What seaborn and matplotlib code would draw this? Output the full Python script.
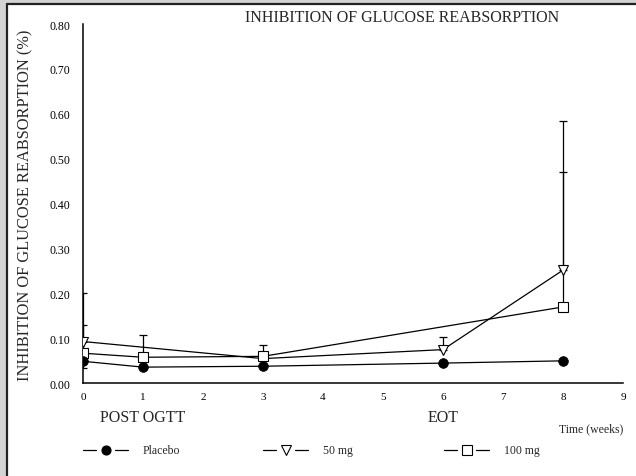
import matplotlib
matplotlib.use("Agg")
import matplotlib.pyplot as plt
import seaborn as sns
import pandas as pd
import numpy as np
from matplotlib.lines import Line2D
from matplotlib.patches import Rectangle

# ---- data ----
placebo_x = [0, 1, 3, 6, 8]
placebo_y = [0.049, 0.036, 0.038, 0.045, 0.050]
placebo_err_lo = [0.015, 0, 0, 0, 0]

mg50_x = [0, 3, 6, 8]
mg50_y = [0.093, 0.055, 0.075, 0.252]
mg50_err_up = [0.107, 0.0, 0.029, 0.332]

mg100_x = [0, 1, 3, 8]
mg100_y = [0.067, 0.058, 0.060, 0.170]
mg100_err_up = [0.063, 0.049, 0.025, 0.301]

yticks = [0.0, 0.1, 0.2, 0.3, 0.4, 0.5, 0.6, 0.7, 0.8]
ytick_labels = ["0.00", "0.10", "0.20", "0.30", "0.40", "0.50", "0.60", "0.70", "0.80"]
xticks = list(range(0, 10))

title = "INHIBITION OF GLUCOSE REABSORPTION"
ylabel = "INHIBITION OF GLUCOSE REABSORPTION (%)"
xlabel = "Time (weeks)"
phase_labels = ["POST OGTT", "EOT"]
phase_pos = [1, 6]
legend_labels = ["Placebo", "50 mg", "100 mg"]

sns.set_theme(style="white")
plt.rcParams["font.family"] = ["Liberation Serif", "DejaVu Serif"]

W, H = 636, 477
fig = plt.figure(figsize=(6.36, 4.77), dpi=100, facecolor="#d3d3d3")
fig.add_artist(Rectangle((8 / W, 0), 1, 1 - 5 / H, transform=fig.transFigure,
                         facecolor="white", edgecolor="none", zorder=-10))
fig.add_artist(Line2D([7 / W, 1], [1 - 4.5 / H, 1 - 4.5 / H], transform=fig.transFigure,
                      color="#222222", lw=1.6))
fig.add_artist(Line2D([7 / W, 7 / W], [0, 1 - 4.5 / H], transform=fig.transFigure,
                      color="#222222", lw=1.6))

ax = fig.add_axes([83 / W, (H - 384.3) / H, 540 / W, (384.3 - 25) / H])
ax.set_facecolor("none")

df_p = pd.DataFrame({"x": placebo_x, "y": placebo_y})
df_50 = pd.DataFrame({"x": mg50_x, "y": mg50_y})
df_100 = pd.DataFrame({"x": mg100_x, "y": mg100_y})

lw = 0.9
ax.errorbar(mg50_x, mg50_y, yerr=[np.zeros(len(mg50_x)), mg50_err_up], fmt="none",
            ecolor="black", elinewidth=lw, capsize=2.6, capthick=lw, zorder=2)
ax.errorbar(mg100_x, mg100_y, yerr=[np.zeros(len(mg100_x)), mg100_err_up], fmt="none",
            ecolor="black", elinewidth=lw, capsize=2.6, capthick=lw, zorder=2)
ax.errorbar(placebo_x, placebo_y, yerr=[placebo_err_lo, np.zeros(len(placebo_x))], fmt="none",
            ecolor="black", elinewidth=lw, capsize=2.6, capthick=lw, zorder=2)

sns.lineplot(data=df_50, x="x", y="y", ax=ax, color="black", lw=lw, marker="v",
             markersize=6.5, markerfacecolor="white", markeredgecolor="black",
             markeredgewidth=0.8, zorder=3)
sns.lineplot(data=df_100, x="x", y="y", ax=ax, color="black", lw=lw, marker="s",
             markersize=6.5, markerfacecolor="white", markeredgecolor="black",
             markeredgewidth=0.8, zorder=4)
sns.lineplot(data=df_p, x="x", y="y", ax=ax, color="black", lw=lw, marker="o",
             markersize=7, markerfacecolor="black", markeredgecolor="black",
             markeredgewidth=0.5, zorder=5)

ax.set_xlim(0, 9)
ax.set_ylim(0, 0.8)
ax.set_xticks(xticks)
ax.set_xticklabels([str(t) for t in xticks], fontsize=8)
ax.set_yticks(yticks)
ax.set_yticklabels(ytick_labels, fontsize=8.5)
ax.set_xlabel("")
ax.set_ylabel("")
for s in ["top", "right"]:
    ax.spines[s].set_visible(False)
for s in ["left", "bottom"]:
    ax.spines[s].set_color("black")
    ax.spines[s].set_linewidth(1.1)
ax.tick_params(axis="both", direction="in", length=5.5, width=1, colors="black",
               labelcolor="black")
ax.tick_params(axis="y", pad=9)
ax.tick_params(axis="x", pad=6)
ax.grid(False)

fig.text(402 / W, 1 - 18 / H, title, ha="center", va="center", fontsize=11.5)
fig.text(25 / W, 1 - 205 / H, ylabel, ha="center", va="center", rotation=90, fontsize=11.8)
for lab, pos in zip(phase_labels, phase_pos):
    ax.text(pos, -0.075, lab, ha="center", va="center", fontsize=11.5,
            transform=ax.transData)
fig.text(623 / W, 1 - 429 / H, xlabel, ha="right", va="center", fontsize=8.5)

# legend drawn on an overlay in pixel units
lax = fig.add_axes([0, 0, 1, 1])
lax.set_xlim(0, W)
lax.set_ylim(H, 0)
lax.axis("off")
specs = [("o", "black", 6.5), ("v", "white", 6.5), ("s", "white", 6.5)]
lefts = [83, 263, 444]
ly = 451
for lab, (m, fc, ms), lx in zip(legend_labels, specs, lefts):
    lax.plot([lx, lx + 13], [ly, ly], color="black", lw=lw)
    lax.plot([lx + 32, lx + 45], [ly, ly], color="black", lw=lw)
    lax.plot([lx + 22.5], [ly], marker=m, markersize=ms, markerfacecolor=fc,
             markeredgecolor="black", markeredgewidth=0.8, linestyle="none")
    lax.text(lx + 60, ly, lab, ha="left", va="center", fontsize=8.5)

fig.savefig("out.png", dpi=100, facecolor=fig.get_facecolor())
